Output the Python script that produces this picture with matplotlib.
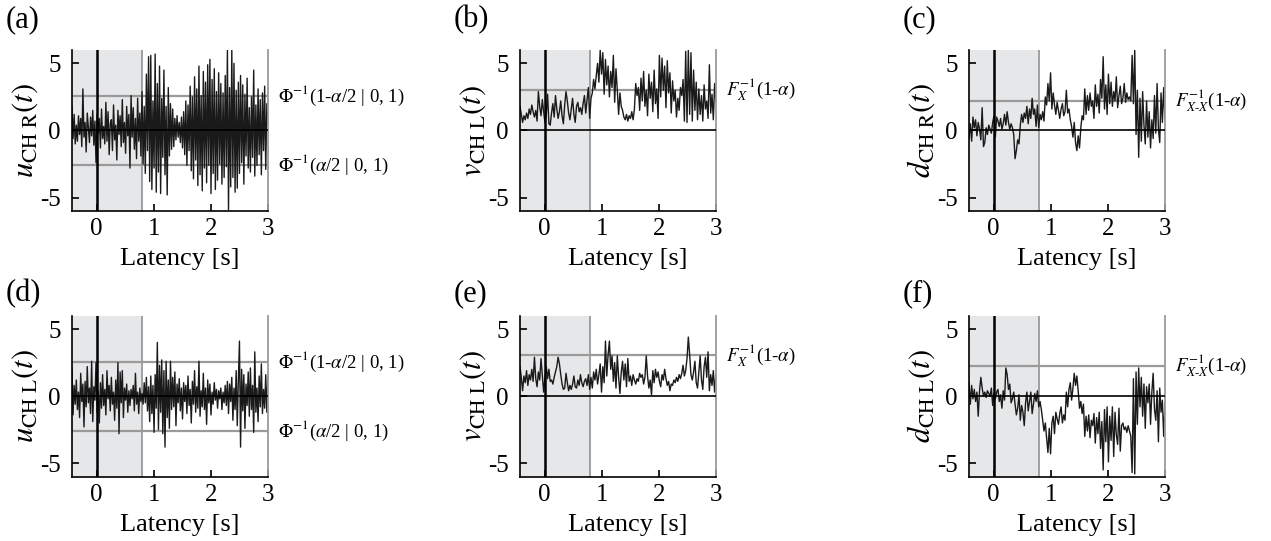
import numpy as np
import matplotlib.pyplot as plt

plt.rcParams['font.family'] = ['Liberation Serif', 'DejaVu Serif']
plt.rcParams['mathtext.fontset'] = 'stix'
plt.rcParams['axes.unicode_minus'] = False

# === data ===
t_start, t_end = -0.43, 3.0
baseline_end = 0.8

# (a) u_CH R
u_r = [1.8, -0.6, 1.2, -1.0, 0.4, -0.8, 1.1, -0.3, 0.9, -1.2, 3.1, -0.5, 0.6, -1.6, 1.3, 0.2, -0.9, 1.0, -0.4, 1.5,
       -1.1, 0.7, -2.4, 1.2, -0.2, 0.9, -1.3, 1.6, -0.6, 0.3, -1.0, 2.1, -0.8, 1.4, -1.8, 0.5, 0.8, -1.5, 1.9, -0.7,
       0.4, -2.2, 1.5, -0.3, 1.1, -1.2, 2.3, -0.9, 0.6, -1.7, 1.8, -0.4, 1.2, -2.8, 2.6, -0.5, 1.7, -1.4, 0.9, -2.1,
       2.4, -0.8, 1.3, -1.9,
       2.9, -2.5, 1.8, -3.2, 4.2, -1.5, 5.5, -3.8, 5.6, -4.4, 2.2, -2.8, 5.7, -4.6, 3.5, -3.1, 4.8, -4.7, 2.4, -2.0,
       4.5, -3.3, 1.8, -4.8, 3.2, -1.9, 2.0, -1.4, 1.6,
       -1.2, 0.9, -0.7, 1.1, -0.5, 0.6, -0.9, 1.0, -1.3, 1.4,
       -1.8, 2.2, -2.6, 1.9, -1.5, 3.3, -3.0, 2.5, -3.6, 4.0, -2.2, 3.1, -4.1, 4.8, -3.3, 2.6, -4.5, 4.4, -2.8, 3.6,
       -3.9, 4.9, -2.6, 5.3, -4.7, 3.8, -3.2, 4.6, -4.4, 2.9, -3.7, 4.3, -2.5, 3.5, -4.0, 2.8, -3.5, 4.1, -2.7, 6.0,
       -5.9, 3.2, -4.2, 6.0, -3.5, 5.0, -4.6, 3.0, -4.3, 3.6,
       -3.2, 4.1, -2.4, 3.4, -4.0, 2.7, -1.9, 3.9, -2.8, 1.7, -3.1, 2.5, -2.0, 4.5, -3.4, 1.9, -2.6, 3.1, -1.8, 2.3,
       -3.3, 2.8, -1.5, 3.3, -2.9, 2.0, 0.4]

# (d) u_CH L
u_l = [2.1, -1.4, 0.8, -0.6, 1.2, -1.0, 0.3, -1.6, 1.7, -0.4, 0.9, -2.3, 1.1, -0.8, 2.2, -0.5, 0.6, -1.3, 2.6, -1.9,
       0.7, -0.3, 2.5, -1.2, 0.4, -2.0, 1.0, -0.9, 1.6, -0.7, 0.5, -1.4, 1.9, -0.2, 0.8, -1.1, 1.4, -0.6, 0.3, -1.8,
       1.2, -0.9, 2.5, -2.8, 1.8, -0.5, 1.9, -1.6, 0.6, -0.3, 0.9, -1.2, 0.4, -0.7, 0.5, -0.2, 0.8, -1.1, 1.7, -0.6,
       0.3, -1.3, 0.6, -0.4, 0.2, -0.6, 1.0, -0.5, 1.4, -1.1, 0.7, -1.9, 1.5, -1.3, 0.8, -2.7, 1.6, -0.9, 4.0, -2.5,
       2.3, -1.2, 2.7, -2.8, 1.9, -3.8, 2.6, -1.6, 1.2, -2.4, 2.6, -1.0, 1.4, -0.8, 1.8, -2.2, 0.9, -0.5, 1.3, -1.1,
       0.6, -1.7, 1.0, -0.4, 0.8, -1.3, 1.5, -0.7, 0.5, -2.0, 1.1, -0.6, 1.9, -1.2, 0.7, -0.9, 2.6, -1.5, 0.4, -0.8,
       1.7, -1.0, 0.6, -2.1, 1.2, -0.5, 0.9, -1.4, 0.3, -0.6, 1.0, -0.3, 0.5, -0.9, 0.4, -0.2, 0.6, -1.0, 0.3, -0.5,
       0.8, -0.7, 1.1, -1.3, 0.9, -0.4, 1.4, -1.8, 0.6, -1.0, 1.9, -2.2, 1.2, 4.1, -3.8, 2.0, -1.1, 1.6, -2.4, 0.9,
       -0.7, 1.8, -1.5, 2.1, -1.0, 0.8, -2.7, 3.3, -1.2, 0.6, -1.9, 1.5, -0.8, 2.4, -1.3, 0.5, -0.9, 1.6, -1.2, 1.4]

# (b) v_CH L (upper row)
v_r = [1.8, 1.2, 0.6, 1.1, 0.8, 1.3, 0.9, 1.6, 1.2, 1.9, 1.4, 1.0, 1.5, 0.7, 2.9, 1.8, 1.1, 2.3, 1.4, 0.6,
       1.2, 2.7, 0.5, 0.4, 1.3, 2.0, 1.0, 2.6, 1.6, 0.9, 1.4, 2.2, 1.1, 0.5, 1.9, 2.9, 2.2, 1.3, 0.8, 1.6,
       2.4, 1.2, 0.6, 1.8, 2.1, 1.4, 1.7, 1.2, 2.0, 2.6, 1.3, 2.3, 3.2, 0.9,
       2.4, 2.8, 3.8, 3.1, 4.1, 5.0, 3.6, 6.0, 4.2, 5.8, 2.7, 5.3, 3.4, 4.8, 2.5, 4.4, 3.2, 5.6, 2.1, 4.6,
       3.0, 1.2, 2.8, 1.8, 1.5, 1.0, 0.8, 1.2, 0.7, 1.1, 0.9, 1.4, 0.8, 1.6,
       3.5, 2.6, 3.2, 1.5, 3.9, 2.2, 4.4, 1.8, 3.0, 1.1, 4.2, 2.4, 3.6, 1.4, 4.5, 2.0, 3.1, 0.9, 5.6,
       2.5, 5.4, 3.0, 4.8, 1.7, 5.2, 2.8, 4.3, 1.3, 3.7, 2.2, 3.0, 1.0, 2.4, 1.5, 3.2,
       2.6, 3.8, 0.7, 5.9, 0.6, 6.0, 1.2, 5.8, 0.7, 4.5, 1.5,
       3.6, 0.8, 3.1, 1.2, 2.6, 0.7, 3.4, 1.6, 2.2, 0.9, 4.9, 1.3, 2.7, 0.8, 3.5, 2.1]

# (e) v_CH L
v_l = [2.2, 1.4, 0.4, 1.5, 1.0, 1.9, 0.8, 1.6, 1.2, 2.0, 1.1, 2.9, 1.3, 0.7, 1.8, 1.2, 2.8, 1.5, 0.3, 1.4,
       2.2, 1.3, 2.0, 1.1, 1.2, 0.9, 1.4, 1.8, 2.2, 2.9, 2.4, 1.6, 0.9, 0.5, 0.6, 1.7, 1.0, 0.4, 0.8, 0.5,
       0.9, 1.5, 0.7, 0.6, 1.2, 0.8, 1.6, 1.0, 0.7, 1.1, 1.3, 0.8, 1.6, 0.5,
       1.4, 0.6, 1.8, 1.2, 2.0, 0.9, 1.6, 2.4, 0.3, 2.2, 1.0, 4.1, 1.5, 3.1, 4.1, 2.0, 3.0, 1.1, 2.5, 0.6,
       3.0, 1.4, 0.2, 1.8, 2.6, 1.2, 2.4, 0.7, 2.8, 1.1, 1.5, 0.8, 1.6, 1.2,
       0.9, 1.3, 1.1, 1.7, 1.4, 1.6, 0.9, 1.4, 3.0, 1.5, 0.6, 1.2, 0.1, 1.9, 1.0, 2.0, 1.4, 1.8, 1.1,
       0.7, 1.6, 1.2, 2.0, 1.3, 0.8, 1.1, 0.4, 0.9, 0.8, 1.2, 1.0, 1.4, 1.1, 1.6, 1.3,
       1.7, 2.3, 1.5, 1.9, 2.8, 4.4, 3.1, 1.6, 1.2, 1.8, 2.6,
       1.0, 0.6, 1.8, 3.0, 1.2, 0.5, 2.2, 2.9, 1.4, 3.3, 0.4, 1.6, 0.8, 1.9, 0.3, 1.6]

# (c) d_CH R
d_r = [-0.6, 0.5, -0.8, 1.0, 0.2, 0.8, -0.4, 0.6, 0.1, -0.7, 1.7, -1.2, -0.9, 0.2, -0.3, 0.4, 0.1, -0.2, 0.6, 1.1,
       -0.5, 1.0, 0.7, 0.3, 0.9, 0.1, 0.5, 1.2, 0.4, 1.4, 0.6, 0.1, 0.5, 0.2, -0.3, -2.1, -1.5, -0.7, -1.0, 0.4,
       1.2, 0.6, 1.3, 0.9, 1.8, 0.5, 1.6, 0.9, 2.4, 1.2, 1.6, 0.3, 1.9, 0.2,
       1.2, 0.8, 1.4, 0.7, 2.5, 1.9, 3.5, 2.2, 4.3, 1.6, 2.8, 1.9, 1.2, 2.1, 1.5, 0.9, 1.6, 2.0, 1.1, 1.4,
       3.0, 1.3, 1.6, 0.8, 0.3, -0.5, 0.6, -0.9, -1.5, -0.4, -1.3, 0.2, 1.1, 0.8,
       3.1, 1.2, 2.6, 1.5, 2.8, 1.8, 2.2, 0.9, 3.4, 1.8, 2.7, 1.3, 3.8, 2.4, 5.5, 1.6, 3.4, 1.2, 4.2,
       2.0, 3.6, 1.8, 2.9, 2.2, 4.0, 1.7, 2.6, 3.3, 2.0, 2.4, 3.5, 2.1, 2.8, 2.3, 2.5,
       2.2, 5.6, 2.0, 6.0, -0.3, 3.0, -2.0, 2.4, -0.8, 2.9, 0.4,
       -1.0, 2.2, -0.5, 1.4, -1.3, 0.8, -0.6, 2.6, -0.2, 3.5, 0.1, -0.9, 2.8, 0.6, 3.2, 0.8]

# (f) d_CH L
d_l = [1.0, -0.6, 0.8, -0.2, 0.5, -0.4, 0.3, -1.5, 0.4, 1.4, 0.6, 0.0, 0.3, -0.1, 0.4, 0.2, 0.0, 0.6, -0.7, 0.2,
       -0.2, 0.3, 0.5, -0.4, 0.1, -0.9, 0.4, -0.3, 2.1, 1.6, 0.5, 0.9, -0.5, -0.2, 0.3, -0.6, -1.4, -0.9, 0.1, -1.8,
       -0.7, -1.2, -2.2, -0.5, 0.3, -1.1, -0.4, 0.3, -1.3, -0.6, 0.2, -0.4, 0.4, -0.8,
       -0.4, -1.0, -1.8, -2.6, -2.0, -3.1, -4.2, -2.4, -4.3, -2.0, -1.5, -2.8, -1.2, -1.7, -2.1, -1.3, -0.8, -2.0, -1.4, -1.8,
       0.3, -0.8, 0.5, 1.0, -0.3, 0.6, 1.7, 0.8, 1.5, 0.4, -0.9, -0.4, -1.3, -0.6,
       -3.0, -1.5, -2.6, -1.4, -3.1, -1.8, -2.2, -1.3, -3.5, -1.6, -2.8, -1.2, -3.9, -1.9, -5.5, -1.0, -3.4, -0.8, -4.9,
       -1.5, -3.3, -0.8, -4.5, -1.2, -2.9, -3.6, -0.9, -4.1, -2.2, -2.0, -2.5, -2.3, -2.7, -2.2, -2.6,
       -3.0, -5.7, 1.3, -5.8, 1.8, -2.1, 2.1, -0.8, 1.4, -1.5, 0.9,
       -2.4, 0.7, -0.5, 0.9, -2.1, 0.3, 1.7, -1.0, -1.8, 0.4, -3.4, 0.6, -1.2, -0.3, -3.0, -0.5]

# thresholds
z_crit = 2.576      # Phi^-1(1-alpha/2 | 0,1)
v_crit = 3.035      # F_X^-1(1-alpha)
d_crit = 2.23       # F_{X-X}^-1(1-alpha)

panels = [
    ("(a)", u_r, r"$u_{\mathrm{CH\ R}}(t)$", [z_crit, -z_crit],
     [r"$\Phi^{-1}$(1-$\alpha$/2 | 0, 1)", r"$\Phi^{-1}$($\alpha$/2 | 0, 1)"]),
    ("(b)", v_r, r"$v_{\mathrm{CH\ L}}(t)$", [v_crit], [r"$F_X^{-1}$(1-$\alpha$)"]),
    ("(c)", d_r, r"$d_{\mathrm{CH\ R}}(t)$", [d_crit], [r"$F_{X\text{-}X}^{-1}$(1-$\alpha$)"]),
    ("(d)", u_l, r"$u_{\mathrm{CH\ L}}(t)$", [z_crit, -z_crit],
     [r"$\Phi^{-1}$(1-$\alpha$/2 | 0, 1)", r"$\Phi^{-1}$($\alpha$/2 | 0, 1)"]),
    ("(e)", v_l, r"$v_{\mathrm{CH\ L}}(t)$", [v_crit], [r"$F_X^{-1}$(1-$\alpha$)"]),
    ("(f)", d_l, r"$d_{\mathrm{CH\ L}}(t)$", [d_crit], [r"$F_{X\text{-}X}^{-1}$(1-$\alpha$)"]),
]

# === figure ===
fig = plt.figure(figsize=(12.71, 5.41), dpi=100)
lefts = [0.0566, 0.4091, 0.7624]
bottoms = [0.610, 0.119]
tag_y = [0.963, 0.458]
w, h = 0.1542, 0.2976
gray = '#9a9a9a'

for k, (tag, y, ylab, levels, notes) in enumerate(panels):
    row, col = divmod(k, 3)
    ax = fig.add_axes([lefts[col], bottoms[row], w, h])
    t = np.linspace(t_start, t_end, len(y))

    ax.axvspan(t_start, baseline_end, color='#e6e7e9', lw=0, zorder=0)
    ax.axvline(baseline_end, color=gray, lw=1.3, zorder=1)
    for lv in levels:
        ax.axhline(lv, color=gray, lw=1.6, zorder=1)
    ax.plot(t, y, color='#1a1a1a', lw=1.0, zorder=2)
    ax.axhline(0, color='black', lw=1.2, zorder=3)
    ax.axvline(0, color='black', lw=1.8, zorder=3)

    ax.set_xlim(t_start, t_end)
    ax.set_ylim(-6, 6)
    ax.set_xticks([0, 1, 2, 3])
    ax.set_yticks([-5, 0, 5])
    ax.tick_params(direction='in', length=5, width=1.2, labelsize=18)
    ax.tick_params(axis='x', pad=5)
    ax.tick_params(axis='y', pad=8)
    ax.spines['top'].set_visible(False)
    ax.spines['right'].set_color(gray)
    ax.spines['right'].set_linewidth(1.3)
    ax.spines['left'].set_linewidth(1.2)
    ax.spines['bottom'].set_linewidth(1.2)

    ax.set_xlabel("Latency [s]", fontsize=19)
    ax.xaxis.set_label_coords(0.55, -0.23)
    ax.set_ylabel(ylab, fontsize=22, labelpad=0)

    for lv, note in zip(levels, notes):
        ax.text(1.05, lv, note, transform=ax.get_yaxis_transform(),
                ha='left', va='center', fontsize=13.5)

    fig.text(lefts[col] - 0.052, tag_y[row], tag, fontsize=22,
             ha='left', va='center')

fig.savefig("out.png", dpi=100)
